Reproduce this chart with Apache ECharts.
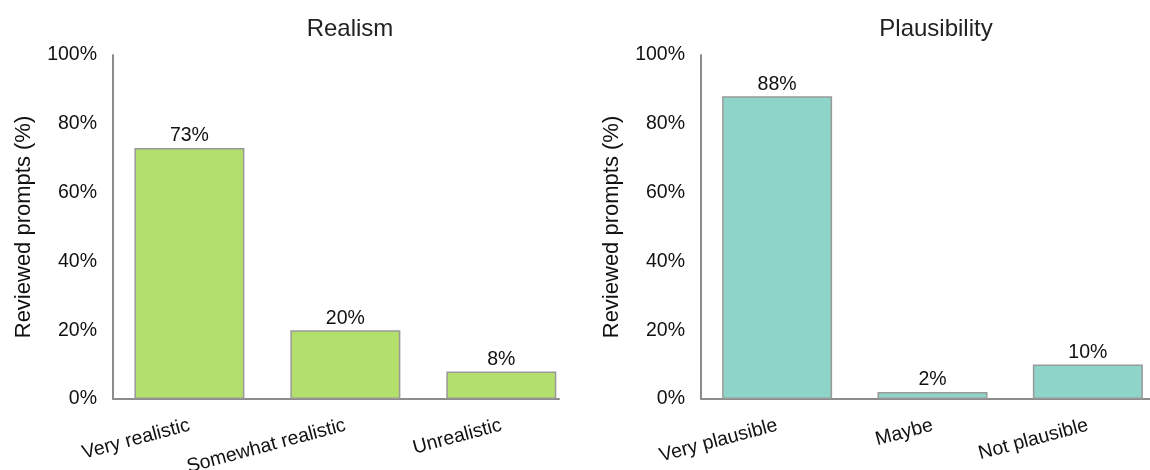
<!DOCTYPE html>
<html>
<head>
<meta charset="utf-8">
<script src="https://cdn.jsdelivr.net/npm/echarts@6/dist/echarts.min.js"></script>
<style>
html,body{margin:0;padding:0;background:#fff;}
#c{width:1150px;height:470px;}
</style>
</head>
<body>
<div id="c"></div>
<script>
const realismCategories = ['Very realistic', 'Somewhat realistic', 'Unrealistic'];
const realismValues = [73, 20, 8];
const plausibilityCategories = ['Very plausible', 'Maybe', 'Not plausible'];
const plausibilityValues = [88, 2, 10];
const yTicks = [0, 20, 40, 60, 80, 100];
const titles = ['Realism', 'Plausibility'];
const yAxisName = 'Reviewed prompts (%)';

const FONT = '"Liberation Sans", Arial, Helvetica, sans-serif';
const chart = echarts.init(document.getElementById('c'), null, {renderer: 'canvas'});

function xAxisFor(cats, gridIndex, max) {
  return {
    type: 'value', gridIndex: gridIndex, min: -0.49, max: max,
    splitLine: {show: false},
    axisLine: {show: true, onZero: false, lineStyle: {color: '#8c8c8c', width: 2}},
    axisTick: {show: false},
    axisLabel: {
      customValues: cats.map((c, i) => i),
      formatter: v => cats[Math.round(v)] || '',
      rotate: 15, margin: 26,
      fontFamily: FONT, fontSize: 19.5, color: '#111'
    }
  };
}
function yAxisFor(gridIndex) {
  return {
    type: 'value', gridIndex: gridIndex, min: yTicks[0], max: yTicks[yTicks.length - 1],
    interval: yTicks[1] - yTicks[0],
    splitLine: {show: false},
    axisLine: {show: true, onZero: false, lineStyle: {color: '#8c8c8c', width: 2}},
    axisTick: {show: false},
    axisLabel: {formatter: '{value}%', margin: 16, padding: [6, 0, 0, 0],
      fontFamily: FONT, fontSize: 19.5, color: '#111'},
    name: yAxisName, nameLocation: 'middle', nameGap: 78, nameRotate: 90,
    nameTextStyle: {fontFamily: FONT, fontSize: 22, color: '#111'}
  };
}
function barSeries(values, gridIndex, color) {
  return {
    type: 'bar', xAxisIndex: gridIndex, yAxisIndex: gridIndex,
    barWidth: 110,
    data: values.map((v, i) => [i, v]),
    itemStyle: {color: color, borderColor: '#999', borderWidth: 1.5},
    label: {
      show: true, position: 'top', distance: 2,
      formatter: p => p.value[1] + '%',
      fontFamily: FONT, fontSize: 19.5, color: '#111'
    },
    silent: true
  };
}

chart.setOption({
  animation: false,
  backgroundColor: '#fff',
  title: [
    {text: titles[0], left: 345, top: 12, textAlign: 'center',
     textStyle: {fontFamily: FONT, fontSize: 24, fontWeight: 'normal', color: '#222'}},
    {text: titles[1], left: 931, top: 12, textAlign: 'center',
     textStyle: {fontFamily: FONT, fontSize: 24, fontWeight: 'normal', color: '#222'}}
  ],
  grid: [
    {left: 113, top: 55, width: 446, height: 344, containLabel: false, outerBoundsMode: 'none'},
    {left: 701, top: 55, width: 449, height: 344, containLabel: false, outerBoundsMode: 'none'}
  ],
  xAxis: [xAxisFor(realismCategories, 0, 2.37), xAxisFor(plausibilityCategories, 1, 2.4)],
  yAxis: [yAxisFor(0), yAxisFor(1)],
  series: [
    barSeries(realismValues, 0, '#b3df6c'),
    barSeries(plausibilityValues, 1, '#8fd4c8')
  ]
});
</script>
</body>
</html>
